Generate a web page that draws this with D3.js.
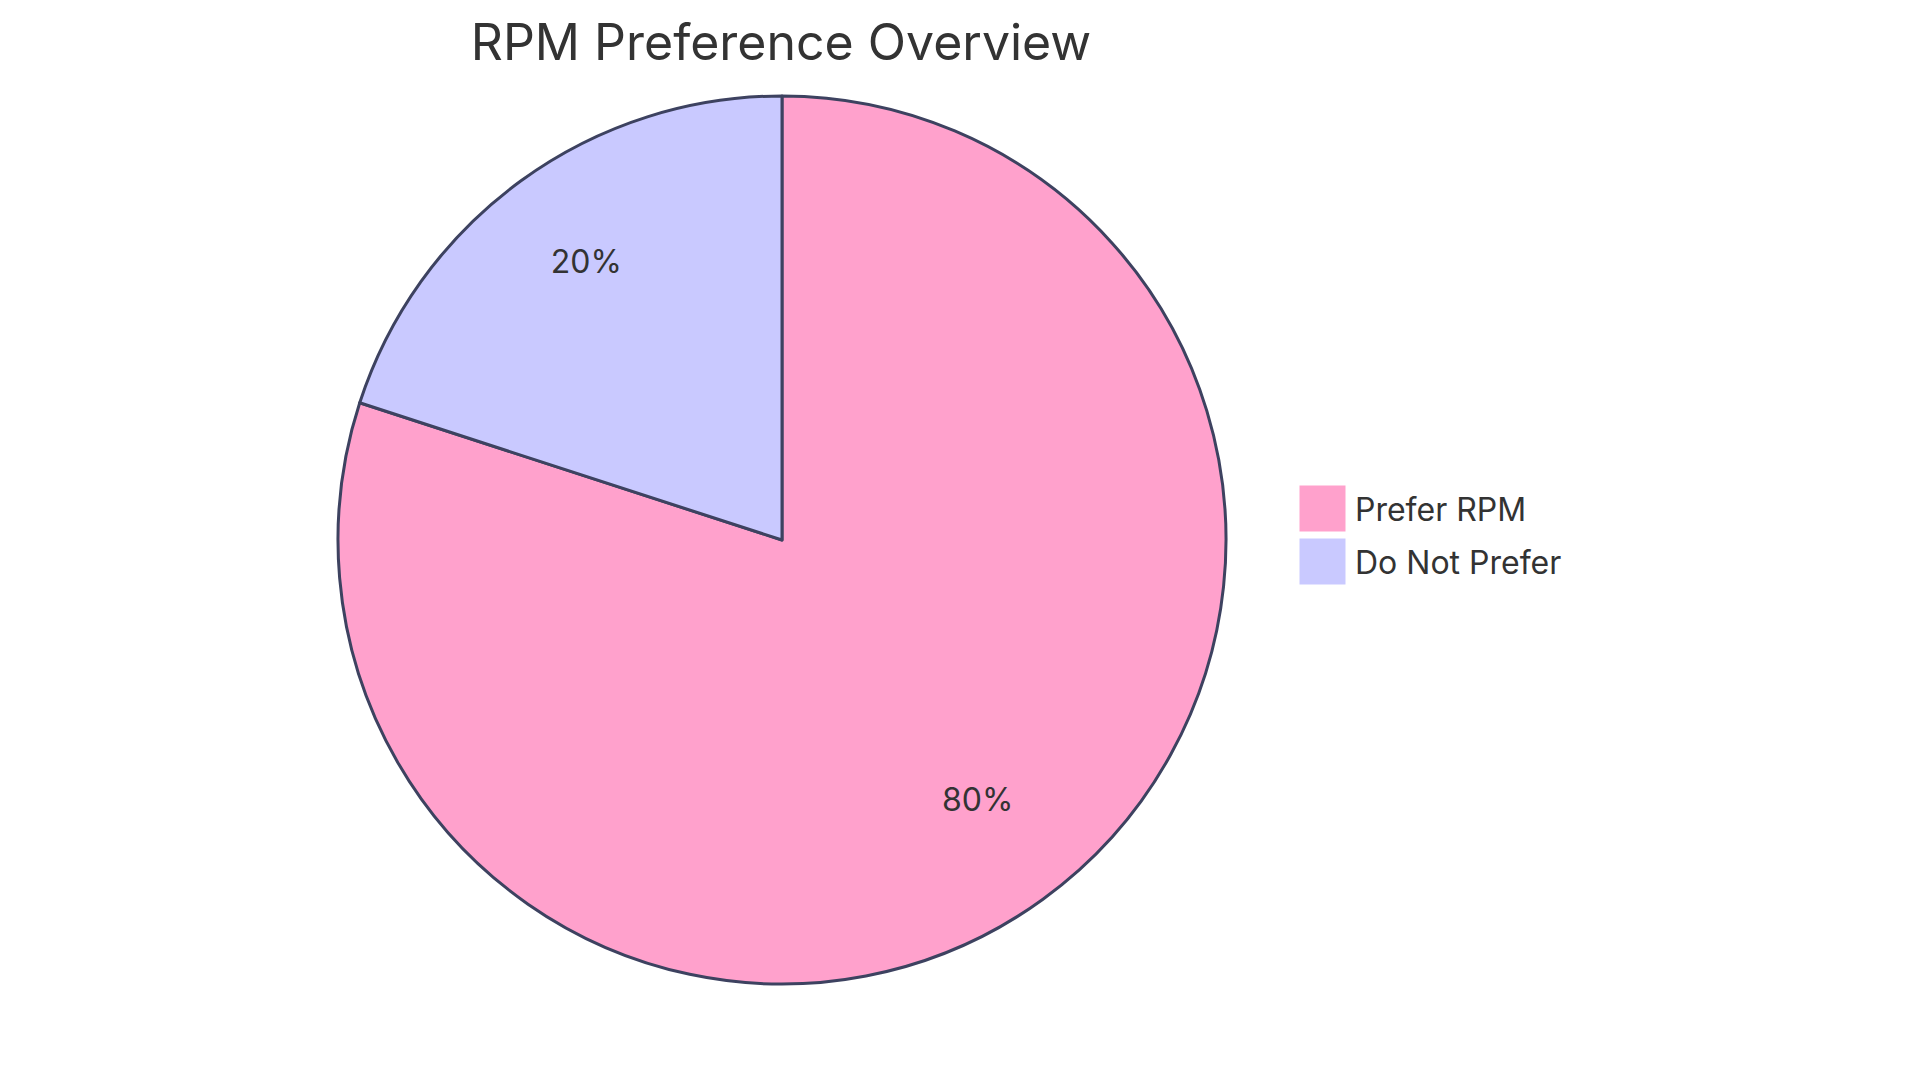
<!DOCTYPE html>
<html>
<head>
<meta charset="utf-8">
<script src="https://cdn.jsdelivr.net/npm/d3@7"></script>
<style>
  body { margin: 0; background: #fff; }
  svg { display: block; font-family: Inter, "Noto Sans", sans-serif; }
</style>
</head>
<body>
<svg id="pie"></svg>
<script>
var labels = ["Prefer RPM", "Do Not Prefer"]
var values = [80, 20]
var colors = ["#FFA1CC", "#C9C9FF"]
var title = "RPM Preference Overview"

var dimensions = {
    width: 1920,
    height: 1083,
    cx: 782,
    cy: 540,
    radius: 444
}

var svg = d3.select("#pie")
            .attr("width", dimensions.width)
            .attr("height", dimensions.height)

var data = labels.map((l, i) => ({ label: l, value: values[i] }))

var colorScale = d3.scaleOrdinal().domain(labels).range(colors)

var pie = d3.pie().value(d => d.value).sort(null)
var arc = d3.arc().innerRadius(0).outerRadius(dimensions.radius)
var labelArc = d3.arc().innerRadius(dimensions.radius * 0.75).outerRadius(dimensions.radius * 0.75)

var total = d3.sum(values)

var g = svg.append("g").attr("transform", "translate(" + dimensions.cx + "," + dimensions.cy + ")")

g.selectAll("path")
    .data(pie(data))
    .enter()
    .append("path")
    .attr("d", arc)
    .attr("fill", d => colorScale(d.data.label))
    .attr("stroke", "#3d4260")
    .attr("stroke-width", 3)
    .attr("stroke-linejoin", "round")

// percentage labels, baseline sits near the centroid
g.selectAll("text.pct")
    .data(pie(data))
    .enter()
    .append("text")
    .attr("class", "pct")
    .attr("transform", d => "translate(" + labelArc.centroid(d) + ")")
    .attr("text-anchor", "middle")
    .attr("dy", 2)
    .style("font-size", "32px")
    .style("fill", "#333")
    .text(d => Math.round(d.data.value / total * 100) + "%")

svg.append("text")
    .attr("x", 781)
    .attr("y", 60)
    .attr("text-anchor", "middle")
    .style("font-size", "50px")
    .style("fill", "#333")
    .text(title)

var legend = svg.append("g")
    .selectAll("g")
    .data(labels)
    .enter()
    .append("g")
    .attr("transform", (d, i) => "translate(1300," + (486 + i * 53) + ")")

legend.append("rect")
    .attr("width", 45)
    .attr("height", 45)
    .attr("fill", d => colorScale(d))
    .attr("stroke", d => colorScale(d))

legend.append("text")
    .attr("x", 55)
    .attr("y", 35)
    .style("font-size", "32px")
    .style("fill", "#333")
    .text(d => d)
</script>
</body>
</html>
